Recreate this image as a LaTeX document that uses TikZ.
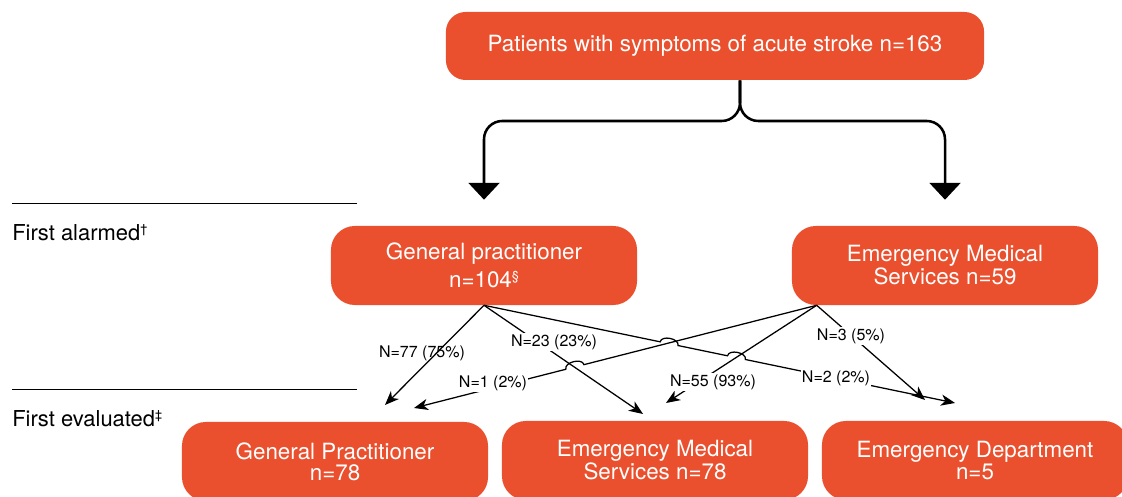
\documentclass[tikz,border=0pt]{standalone}
\usepackage{fontspec}
\setmainfont{TeX Gyre Heros}
\usepackage{tikz}
\usetikzlibrary{arrows.meta, calc, positioning}
\definecolor{boxred}{RGB}{234,80,46}
\newcommand{\supmark}[1]{\raisebox{0.33em}{\fontsize{9}{9}\selectfont #1}}
\tikzset{
	box/.style={fill=boxred, text=white, rounded corners=17pt, minimum width=7.65cm, minimum height=1.975cm, align=center, inner sep=0pt, font=\fontsize{15.9}{15}\selectfont},
	flow/.style={line width=0.9pt, -{Stealth[length=10pt, width=8pt, inset=3pt]}},
	brace/.style={line width=1.8pt, rounded corners=13pt, -{Triangle[length=12pt, width=22pt]}},
	nlabel/.style={fill=white, inner sep=1pt, font=\fontsize{11.4}{13}\selectfont},
	stage/.style={anchor=base west, inner sep=0pt, font=\fontsize{15.6}{18}\selectfont}
}

\begin{document}
\begin{tikzpicture}[x=0.025cm, y=0.025cm]
	\clip (0,0) rectangle (1122,497);
	% boxes
	\node[box, rounded corners=14pt, minimum width=13.45cm, minimum height=1.7cm] (top) at (715,451) {Patients with symptoms of acute stroke n=163};
	\node[box] (gp) at (484,231.5) {General practitioner\\[3.7pt]n=104\supmark{\S}};
	\node[box] (ems) at (945,231.5) {Emergency Medical\\Services n=59};
	\node[box] (gp2) at (335,35.5) {General Practitioner\\n=78};
	\node[box] (ems2) at (655,36.5) {Emergency Medical\\Services n=78};
	\node[box] (ed) at (975,36.5) {Emergency Department\\n=5};
	% stages on the left
	\draw[line width=0.7pt] (12,293) -- (357,293);
	\draw[line width=0.7pt] (12,108) -- (357,108);
	\node[stage] (alarmed) at (12,256) {First alarmed\supmark{\textdagger}};
	\node[stage] (evaluated) at (12,70) {First evaluated\supmark{\textdaggerdbl}};
	% split from the top box
	\coordinate (stem) at ($(top.south)+(25,0)$);
	\coordinate (split) at (740,376);
	\draw[brace] (stem) -- (split) -- (split -| gp.north) -- ($(gp.north)+(0,26)$);
	\draw[brace] (stem) -- (split) -- (split -| ems.north) -- ($(ems.north)+(0,26)$);
	% who evaluated first
	\coordinate (emsout) at ($(ems.south west)+(25,0)$);
	\coordinate (t77) at (385,92);
	\coordinate (t23) at (643,83);
	\coordinate (t2) at (955,94);
	\coordinate (t1) at (414,89);
	\coordinate (t55) at (666,94);
	\coordinate (t3) at (925,97);
	\draw[flow] (gp.south) -- (t77);
	\draw[flow] (gp.south) -- (t23);
	\draw[flow] (gp.south) -- ($(gp.south)!0.374!(t2)$) to[bend left=90] ($(gp.south)!0.412!(t2)$) -- ($(gp.south)!0.517!(t2)$) to[bend left=90] ($(gp.south)!0.555!(t2)$) -- (t2);
	\draw[flow] (emsout) -- ($(emsout)!0.578!(t1)$) to[bend right=90] ($(emsout)!0.623!(t1)$) -- (t1);
	\draw[flow] (emsout) -- (t55);
	\draw[flow] (emsout) -- (t3);
	\node[nlabel, fill=none] (l77) at (422,144) {N=77 (75\%)};
	\node[nlabel] (l23) at (554,155) {N=23 (23\%)};
	\node[nlabel] (l1) at (493,114) {N=1 (2\%)};
	\node[nlabel] (l55) at (713,115) {N=55 (93\%)};
	\node[nlabel] (l2) at (836,119) {N=2 (2\%)};
	\node[nlabel] (l3) at (851,161) {N=3 (5\%)};
\end{tikzpicture}
\end{document}
